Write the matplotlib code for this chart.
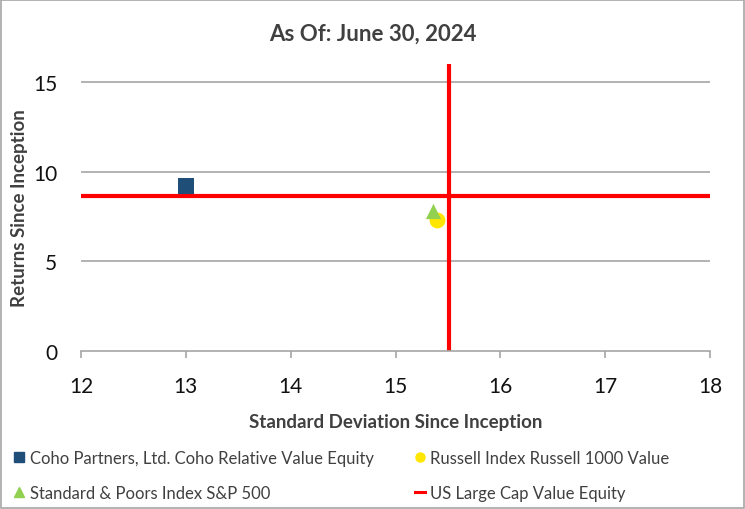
import matplotlib.pyplot as plt
from matplotlib.lines import Line2D
from matplotlib.patches import Rectangle

plt.rcParams['font.family'] = ['Lato', 'DejaVu Sans']

# data
names = ['Coho Partners, Ltd. Coho Relative Value Equity',
         'Russell Index Russell 1000 Value',
         'Standard & Poors Index S&P 500']
std_dev = [13.0, 15.40, 15.36]
returns = [9.18, 7.33, 7.83]
markers = ['s', 'o', '^']
colors = ['#1f4e79', '#ffe600', '#92d050']

bench_name = 'US Large Cap Value Equity'
bench_std = 15.51
bench_ret = 8.62

xticks = [12, 13, 14, 15, 16, 17, 18]
yticks = [0, 5, 10, 15]

fig = plt.figure(figsize=(7.45, 5.1), dpi=100)
ax = fig.add_axes([81 / 745, 1 - 352 / 510, 629 / 745, 287 / 510])

# outer border of the chart area
fig.patches.append(Rectangle((0.001, 0.001), 0.997, 0.997, transform=fig.transFigure,
                             fill=False, edgecolor='#a6a6a6', lw=1.2))

for y in yticks[1:]:
    ax.axhline(y, color='#a6a6a6', lw=1.2, zorder=1)

# benchmark crosshair
ax.axhline(bench_ret, color='#ff0000', lw=3, zorder=2)
ax.axvline(bench_std, color='#ff0000', lw=3, zorder=2)

sizes = [130, 130, 120]
for i in range(len(names)):
    ax.scatter(std_dev[i], returns[i], marker=markers[i], s=sizes[i], color=colors[i],
               zorder=3 + (i == 2), linewidths=0)

ax.set_xlim(12, 18)
ax.set_ylim(0, 16)
ax.set_xticks(xticks)
ax.set_yticks(yticks)
ax.tick_params(axis='both', labelsize=15, colors='#111111')
ax.tick_params(axis='y', length=0, pad=17)
ax.tick_params(axis='x', length=5, color='#a6a6a6', width=1.2, pad=13)
for s in ['top', 'right', 'left']:
    ax.spines[s].set_visible(False)
ax.spines['bottom'].set_color('#a6a6a6')
ax.spines['bottom'].set_linewidth(1.2)

ax.set_xlabel('Standard Deviation Since Inception', fontsize=13.5, fontweight='bold',
              color='#404040', labelpad=12)
ax.set_ylabel('Returns Since Inception', fontsize=13.5, fontweight='bold',
              color='#404040')
ax.yaxis.set_label_coords(-0.084, 0.5)

fig.text(0.5, 1 - 34 / 510, 'As Of: June 30, 2024', ha='center', va='center',
         fontsize=16, fontweight='bold', color='#404040')

leg_kw = dict(loc='upper left', frameon=False, fontsize=12, handlelength=0.6,
              handletextpad=0.35, labelspacing=1.15, borderaxespad=0)
h_left = [Line2D([], [], marker='s', color=colors[0], ls='none', markersize=6.5),
          Line2D([], [], marker='^', color=colors[2], ls='none', markersize=6.5)]
h_right = [Line2D([], [], marker='o', color=colors[1], ls='none', markersize=6.5),
           Line2D([], [], color='#ff0000', lw=2.2)]
leg1 = fig.legend(h_left, [names[0], names[2]], bbox_to_anchor=(7 / 745, 1 - 444 / 510),
                  **leg_kw)
leg2 = fig.legend(h_right, [names[1], bench_name], bbox_to_anchor=(408 / 745, 1 - 444 / 510),
                  **leg_kw)
for leg in (leg1, leg2):
    for t in leg.get_texts():
        t.set_color('#404040')

fig.savefig('out.png', dpi=100)
